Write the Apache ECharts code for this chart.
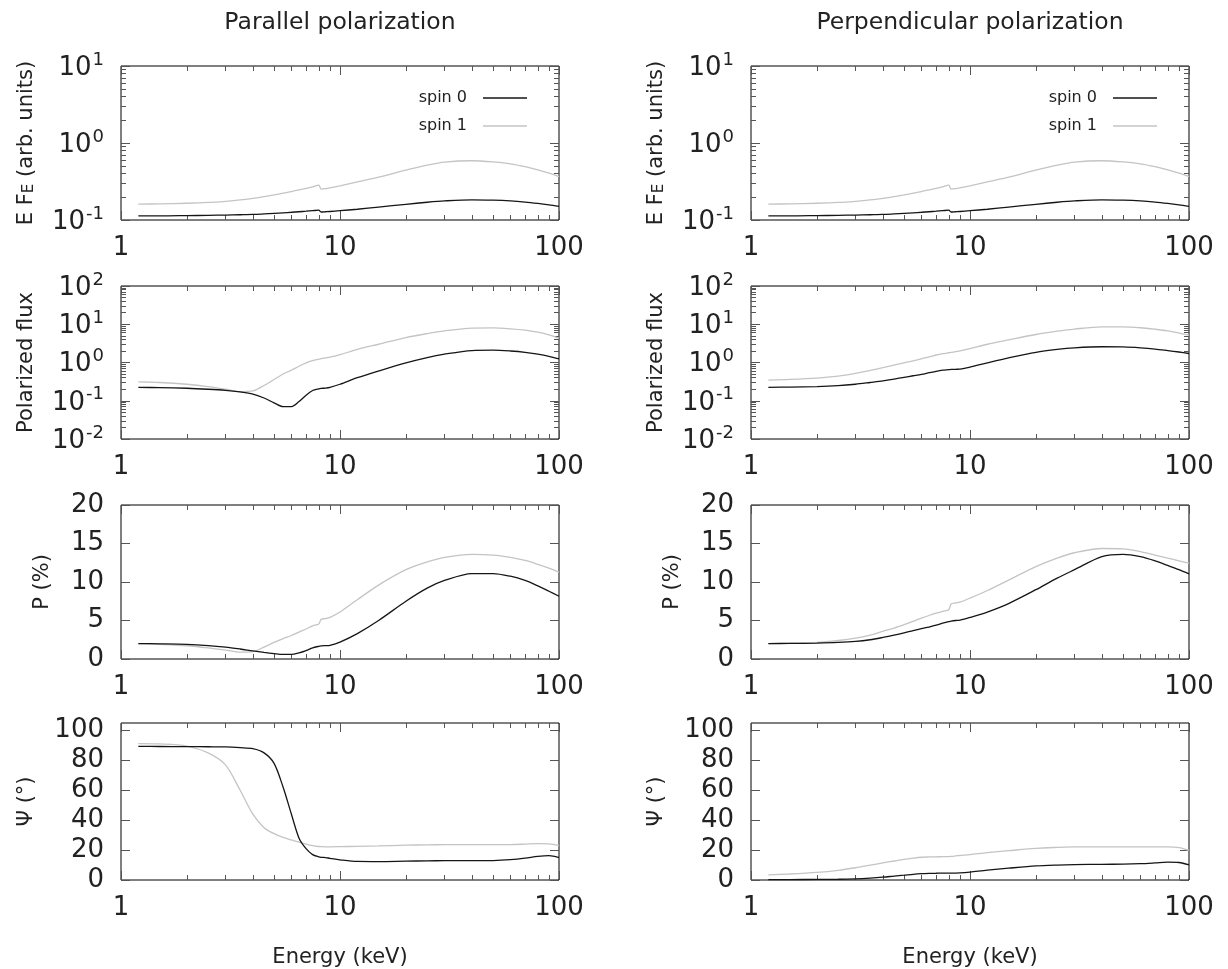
<!DOCTYPE html>
<html>
<head>
<meta charset="utf-8">
<script src="https://cdn.jsdelivr.net/npm/echarts@6/dist/echarts.min.js"></script>
<style>
  html, body { margin: 0; padding: 0; background: #fff; }
  #chart { width: 1228px; height: 969px; }
</style>
</head>
<body>
<div id="chart"></div>
<script>
// Photon energy grid (keV), shared by every curve
const energy = [1.2, 1.5, 2, 2.5, 3, 3.5, 4, 4.5, 5, 5.5, 6, 6.5, 7, 7.5, 8, 8.2, 8.6, 9,
                10, 12, 15, 20, 25, 30, 40, 50, 60, 70, 80, 90, 100];

// Spectrum E F_E (same for both polarization geometries)
const specSpin0 = [0.113, 0.113, 0.114, 0.115, 0.116, 0.117, 0.118, 0.120, 0.122, 0.124, 0.126, 0.128, 0.130, 0.132, 0.134, 0.127, 0.128, 0.129,
                   0.132, 0.138, 0.147, 0.160, 0.170, 0.177, 0.183, 0.181, 0.177, 0.171, 0.164, 0.157, 0.150];
const specSpin1 = [0.161, 0.162, 0.165, 0.169, 0.175, 0.182, 0.191, 0.201, 0.212, 0.223, 0.234, 0.246, 0.258, 0.270, 0.283, 0.252, 0.256, 0.262,
                   0.278, 0.312, 0.360, 0.445, 0.515, 0.565, 0.588, 0.568, 0.535, 0.492, 0.448, 0.405, 0.365];

// Polarized flux
const parFluxSpin0 = [0.224, 0.220, 0.212, 0.200, 0.187, 0.170, 0.150, 0.118, 0.088, 0.070, 0.070, 0.095, 0.140, 0.185, 0.205, 0.210, 0.215, 0.225,
                      0.27, 0.40, 0.60, 0.98, 1.35, 1.65, 2.05, 2.10, 2.00, 1.85, 1.65, 1.45, 1.25];
const parFluxSpin1 = [0.31, 0.30, 0.27, 0.235, 0.20, 0.172, 0.18, 0.25, 0.36, 0.50, 0.63, 0.80, 0.98, 1.12, 1.22, 1.26, 1.32, 1.38,
                      1.6, 2.2, 3.0, 4.5, 5.7, 6.7, 7.9, 8.0, 7.6, 7.0, 6.2, 5.3, 4.3];
const perpFluxSpin0 = [0.224, 0.228, 0.235, 0.248, 0.27, 0.30, 0.33, 0.37, 0.41, 0.45, 0.49, 0.54, 0.59, 0.63, 0.65, 0.66, 0.665, 0.67,
                       0.76, 0.98, 1.32, 1.85, 2.20, 2.42, 2.58, 2.55, 2.42, 2.25, 2.05, 1.88, 1.72];
const perpFluxSpin1 = [0.347, 0.36, 0.39, 0.44, 0.52, 0.62, 0.73, 0.85, 0.98, 1.10, 1.25, 1.40, 1.57, 1.70, 1.80, 1.84, 1.92, 2.00,
                       2.3, 3.0, 3.9, 5.4, 6.6, 7.5, 8.5, 8.5, 8.1, 7.4, 6.7, 5.9, 5.2];

// Polarization degree P (%)
const parDegSpin0 = [2.0, 1.97, 1.9, 1.75, 1.55, 1.3, 1.05, 0.85, 0.7, 0.6, 0.6, 0.8, 1.1, 1.45, 1.65, 1.7, 1.74, 1.78,
                     2.2, 3.3, 5.0, 7.5, 9.2, 10.2, 11.1, 11.1, 10.75, 10.2, 9.5, 8.8, 8.15];
const parDegSpin1 = [2.0, 1.9, 1.72, 1.45, 1.15, 0.88, 0.95, 1.55, 2.15, 2.65, 3.05, 3.5, 3.9, 4.3, 4.55, 5.15, 5.25, 5.4,
                     6.1, 7.7, 9.6, 11.6, 12.6, 13.2, 13.6, 13.5, 13.2, 12.8, 12.3, 11.8, 11.27];
const perpDegSpin0 = [2.0, 2.02, 2.07, 2.15, 2.28, 2.5, 2.8, 3.1, 3.4, 3.7, 3.95, 4.15, 4.4, 4.65, 4.85, 4.92, 5.0, 5.05,
                      5.4, 6.1, 7.2, 9.0, 10.5, 11.6, 13.3, 13.6, 13.3, 12.75, 12.15, 11.6, 11.05];
const perpDegSpin1 = [2.0, 2.05, 2.15, 2.4, 2.7, 3.1, 3.6, 4.0, 4.45, 4.9, 5.3, 5.65, 5.95, 6.2, 6.4, 7.15, 7.28, 7.38,
                      7.9, 8.9, 10.25, 12.0, 13.1, 13.8, 14.35, 14.3, 13.95, 13.5, 13.1, 12.75, 12.44];

// Polarization angle Psi (degrees)
const parAngSpin0 = [89.4, 89.3, 89.2, 89.1, 89.0, 88.5, 87.8, 85.0, 78, 62, 44, 28, 21, 17, 15.5, 15.2, 15.0, 14.5,
                     13.5, 12.4, 12.3, 12.6, 12.8, 12.9, 12.9, 13.0, 13.6, 14.6, 15.8, 16.3, 15.0];
const parAngSpin1 = [91.2, 91.0, 89.6, 85, 77, 60, 44, 35, 31, 28.5, 26.8, 25.3, 24, 23, 22.4, 22.3, 22.2, 22.2,
                     22.3, 22.5, 22.8, 23.3, 23.5, 23.6, 23.6, 23.6, 23.7, 24.0, 24.3, 24.2, 23.0];
const perpAngSpin0 = [0.3, 0.3, 0.4, 0.5, 0.8, 1.3, 1.9, 2.6, 3.2, 3.8, 4.2, 4.4, 4.5, 4.6, 4.6, 4.6, 4.6, 4.7,
                      5.3, 6.6, 7.9, 9.4, 10.0, 10.3, 10.5, 10.6, 10.9, 11.4, 11.9, 11.7, 10.1];
const perpAngSpin1 = [3.4, 4.0, 5.1, 6.5, 8.2, 9.9, 11.4, 12.7, 13.8, 14.6, 15.2, 15.4, 15.5, 15.6, 15.7, 15.8, 16.1, 16.4,
                      17.0, 18.3, 19.6, 21.2, 21.8, 22.1, 22.1, 22.1, 22.1, 22.1, 22.1, 21.6, 19.8];

// Tick values
const energyTicks = [1, 10, 100];
const specTicks = [0.1, 1, 10];
const fluxTicks = [0.01, 0.1, 1, 10, 100];
const degTicks = [0, 5, 10, 15, 20];
const angTicks = [0, 20, 40, 60, 80, 100];

const columnTitles = ['Parallel polarization', 'Perpendicular polarization'];
const seriesNames = ['spin 0', 'spin 1'];
const seriesColors = ['#151515', '#c4c4c4'];

const FONT = 'DejaVu Sans';
const TXT = '#222';
const TICK = '#555';
const TICK_FONT = 26;

// Minor ticks at 2..9 within each decade
function decadeMinors(lo, hi) {
  const out = [];
  for (let d = Math.round(Math.log10(lo)); d < Math.round(Math.log10(hi)); d++) {
    for (let k = 2; k <= 9; k++) out.push(Number((k * Math.pow(10, d)).toPrecision(6)));
  }
  return out;
}

const colLeft = [121, 751];
const colWidth = 438;
const rowTop = [66, 286, 505, 723];
const rowHeight = [154, 153, 154, 164];

const rows = [
  { log: true, min: 0.1, max: 10, ticks: specTicks, name: 'E F{sub|E} (arb. units)', gap: 84,
    data: [[specSpin0, specSpin1], [specSpin0, specSpin1]] },
  { log: true, min: 0.01, max: 100, ticks: fluxTicks, name: 'Polarized flux', gap: 84,
    data: [[parFluxSpin0, parFluxSpin1], [perpFluxSpin0, perpFluxSpin1]] },
  { log: false, min: 0, max: 20, ticks: degTicks, name: 'P (%)', gap: 68,
    data: [[parDegSpin0, parDegSpin1], [perpDegSpin0, perpDegSpin1]] },
  { log: false, min: 0, max: 105, ticks: angTicks, name: '\u03A8 (\u00B0)', gap: 84,
    data: [[parAngSpin0, parAngSpin1], [perpAngSpin0, perpAngSpin1]] }
];

const grid = [], xAxis = [], yAxis = [], series = [];

function logLabel(v) {
  const e = Math.round(Math.log10(v));
  return '{b|10}{s|' + e + '}';
}

rows.forEach((row, r) => {
  [0, 1].forEach(c => {
    const gi = grid.length;
    grid.push({
      left: colLeft[c], top: rowTop[r], width: colWidth, height: rowHeight[r],
      show: true, borderColor: '#000', borderWidth: 1, backgroundColor: 'transparent'
    });

    // Energy axes: major/minor ticks mirrored on bottom and top
    const xMinor = decadeMinors(1, 100);
    const xBase = {
      type: 'log', logBase: 10, min: 1, max: 100, gridIndex: gi,
      splitLine: { show: false }, axisLine: { show: false, onZero: false }
    };
    const majX = { show: true, inside: true, length: 9, customValues: energyTicks, lineStyle: { color: TICK, width: 1 } };
    const minX = { show: true, inside: true, length: 5, customValues: xMinor, lineStyle: { color: TICK, width: 1 } };
    const xi = xAxis.length;
    xAxis.push(Object.assign({}, xBase, {
      position: 'bottom', axisTick: majX,
      axisLabel: { customValues: energyTicks, fontSize: TICK_FONT, fontFamily: FONT, color: TXT, margin: 15 },
      name: r === 3 ? 'Energy (keV)' : '', nameLocation: 'middle', nameGap: 67,
      nameTextStyle: { fontSize: 21, fontFamily: FONT, color: TXT }
    }));
    xAxis.push(Object.assign({}, xBase, { position: 'bottom', axisTick: minX, axisLabel: { show: false } }));
    xAxis.push(Object.assign({}, xBase, { position: 'top', axisTick: majX, axisLabel: { show: false } }));
    xAxis.push(Object.assign({}, xBase, { position: 'top', axisTick: minX, axisLabel: { show: false } }));

    // Value axes, mirrored left and right
    const yMinor = row.log ? decadeMinors(row.min, row.max) : [];
    const yBase = {
      type: row.log ? 'log' : 'value', min: row.min, max: row.max, gridIndex: gi,
      splitLine: { show: false }, axisLine: { show: false, onZero: false }
    };
    if (row.log) yBase.logBase = 10;
    const majY = { show: true, inside: true, length: 9, customValues: row.ticks, lineStyle: { color: TICK, width: 1 } };
    const minY = { show: row.log, inside: true, length: 5, customValues: yMinor, lineStyle: { color: TICK, width: 1 } };
    const yi = yAxis.length;
    yAxis.push(Object.assign({}, yBase, {
      position: 'left', axisTick: majY,
      axisLabel: {
        customValues: row.ticks, margin: 17, color: TXT, fontFamily: FONT, fontSize: TICK_FONT,
        formatter: row.log ? logLabel : (v => String(v)),
        rich: {
          b: { fontSize: TICK_FONT, fontFamily: FONT, color: TXT, verticalAlign: 'bottom' },
          s: { fontSize: 18, fontFamily: FONT, color: TXT, verticalAlign: 'top', padding: [0, 0, 12, 1] }
        }
      },
      name: row.name, nameLocation: 'middle', nameRotate: 90, nameGap: row.gap,
      nameTextStyle: {
        fontSize: 21, fontFamily: FONT, color: TXT,
        rich: { sub: { fontSize: 15, fontFamily: FONT, color: TXT, verticalAlign: 'bottom', padding: [6, 0, 0, 0] } }
      }
    }));
    yAxis.push(Object.assign({}, yBase, { position: 'left', axisTick: minY, axisLabel: { show: false } }));
    yAxis.push(Object.assign({}, yBase, { position: 'right', axisTick: majY, axisLabel: { show: false } }));
    yAxis.push(Object.assign({}, yBase, { position: 'right', axisTick: minY, axisLabel: { show: false } }));

    row.data[c].forEach((vals, k) => {
      series.push({
        name: seriesNames[k], type: 'line', xAxisIndex: xi, yAxisIndex: yi,
        data: energy.map((e, i) => [e, vals[i]]),
        showSymbol: false, symbol: 'none', smooth: 0.3,
        lineStyle: { color: seriesColors[k], width: 1.3 },
        itemStyle: { color: seriesColors[k] },
        z: 3 - k, animation: false
      });
    });
  });
});

const legendCommon = {
  data: seriesNames, orient: 'vertical', align: 'right', icon: 'rect',
  itemWidth: 44, itemHeight: 1.5, itemGap: 12, selectedMode: false,
  textStyle: { fontSize: 16, fontFamily: FONT, color: TXT, padding: [0, 11, 0, 0] }
};

const option = {
  animation: false,
  backgroundColor: '#fff',
  grid, xAxis, yAxis, series,
  legend: [
    Object.assign({ right: 1228 - 532, top: 85 }, legendCommon),
    Object.assign({ right: 1228 - 1162, top: 85 }, legendCommon)
  ],
  graphic: columnTitles.map((t, c) => ({
    type: 'text', x: colLeft[c] + colWidth / 2, y: 23,
    style: { text: t, font: '23.5px "DejaVu Sans"', fill: TXT, align: 'center', verticalAlign: 'middle' }
  }))
};

const chart = echarts.init(document.getElementById('chart'), null, { renderer: 'canvas' });
chart.setOption(option);
</script>
</body>
</html>
